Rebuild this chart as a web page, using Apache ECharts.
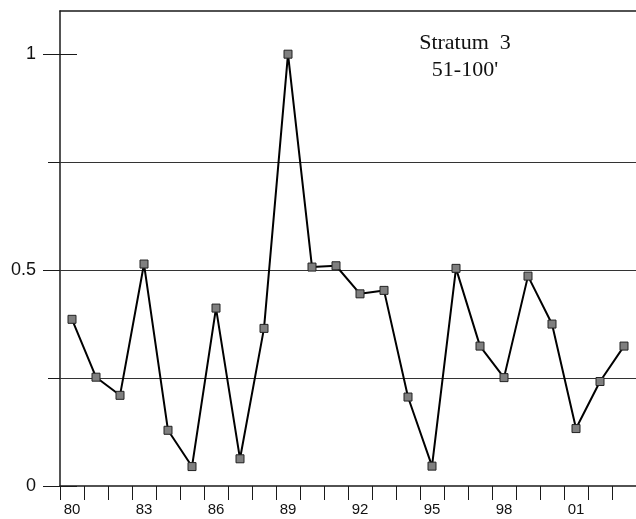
<!DOCTYPE html>
<html>
<head>
<meta charset="utf-8">
<script src="https://cdn.jsdelivr.net/npm/echarts@6/dist/echarts.min.js"></script>
<style>html,body{margin:0;padding:0;background:#fff;}#c{width:636px;height:519px;}</style>
</head>
<body>
<div id="c"></div>
<script>
const years = ['80','81','82','83','84','85','86','87','88','89','90','91','92','93','94','95','96','97','98','99','00','01','02','03'];
const values = [0.386,0.252,0.21,0.514,0.129,0.045,0.412,0.063,0.365,1.0,0.507,0.51,0.445,0.453,0.206,0.046,0.504,0.324,0.251,0.486,0.375,0.133,0.242,0.324];
const majorTicks = [0, 0.5, 1];
const minorTicks = [0.25, 0.75];
const gridValues = [0.25, 0.5, 0.75];
const yLabels = {'0':'0','0.5':'0.5','1':'1'};
const titleLines = ['Stratum  3', "51-100'"];

const chart = echarts.init(document.getElementById('c'), null, {renderer:'canvas'});
const axisColor = '#1a1a1a';
const yBase = {type:'value', min:0, max:1.1, position:'left', splitLine:{show:false}};
chart.setOption({
  animation:false,
  backgroundColor:'#fff',
  grid:{left:60, top:11, width:578, height:475},
  xAxis:[
    {type:'category', data:years, boundaryGap:true, position:'bottom',
     axisLine:{show:true, onZero:false, lineStyle:{color:axisColor, width:1.5}},
     axisTick:{show:true, interval:0, length:14, lineStyle:{color:axisColor, width:1}},
     axisLabel:{interval:2, margin:16, fontSize:15, fontFamily:'Liberation Sans', color:'#111'},
     splitLine:{show:false}},
    {type:'category', data:years, position:'top',
     axisLine:{show:true, onZero:false, lineStyle:{color:axisColor, width:1.5}},
     axisTick:{show:false}, axisLabel:{show:false}, splitLine:{show:false}}
  ],
  yAxis:[
    Object.assign({}, yBase, {
      axisLine:{show:true, onZero:false, lineStyle:{color:axisColor, width:1.5}},
      axisTick:{show:false},
      axisLabel:{customValues:majorTicks, margin:24, fontSize:18, fontFamily:'Liberation Sans', color:'#111',
        formatter:function(v){ return yLabels[String(v)] !== undefined ? yLabels[String(v)] : ''; }}
    }),
    Object.assign({}, yBase, {
      offset:-17,
      axisLine:{show:false, onZero:false},
      axisTick:{show:true, length:34, customValues:majorTicks, lineStyle:{color:axisColor, width:1.2}},
      axisLabel:{show:false}
    }),
    Object.assign({}, yBase, {
      axisLine:{show:false, onZero:false},
      axisTick:{show:true, length:12, customValues:minorTicks, lineStyle:{color:axisColor, width:1}},
      axisLabel:{show:false}
    })
  ],
  graphic:[
    {type:'text', x:465, y:43, style:{text:titleLines[0], font:'22px "Liberation Serif"', fill:'#111', textAlign:'center', textVerticalAlign:'middle'}},
    {type:'text', x:465, y:70, style:{text:titleLines[1], font:'22px "Liberation Serif"', fill:'#111', textAlign:'center', textVerticalAlign:'middle'}}
  ],
  series:[{
    type:'line', data:values, xAxisIndex:0, yAxisIndex:0,
    symbol:'rect', symbolSize:8, showAllSymbol:true,
    lineStyle:{color:'#000', width:2},
    itemStyle:{color:'#7f7f7f', borderColor:'#222', borderWidth:1},
    z:5,
    markLine:{silent:true, symbol:['none','none'], label:{show:false},
      lineStyle:{color:'#333', width:1, type:'solid'},
      data:gridValues.map(v => ({yAxis:v})), z:1}
  }]
});
</script>
</body>
</html>
